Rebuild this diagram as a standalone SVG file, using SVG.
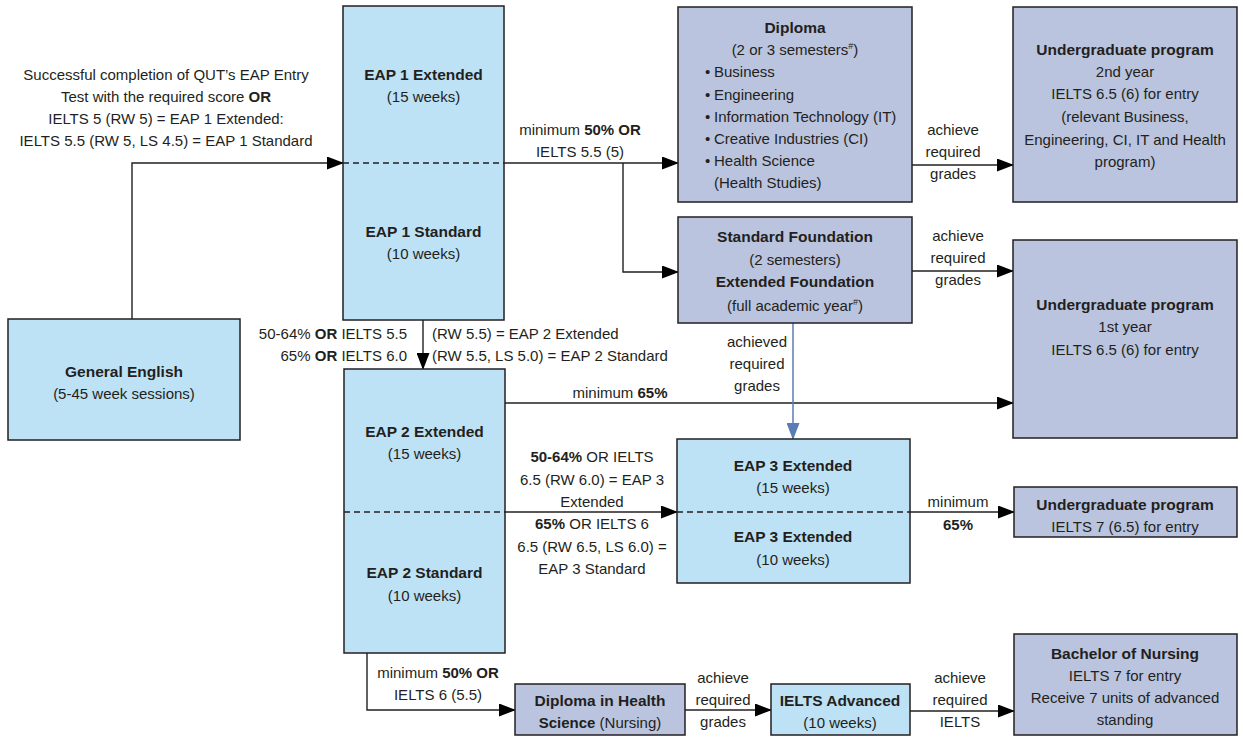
<svg xmlns="http://www.w3.org/2000/svg" width="1243" height="738" viewBox="0 0 1243 738">
<defs>
<style>
text{font-family:"Liberation Sans",Arial,sans-serif;font-size:15px;fill:#231F20}
.c{text-anchor:middle}
.r{text-anchor:end}
.b{font-weight:bold;font-size:15.5px}
.sup{font-size:9px}
.lb{fill:#BEE2F5;stroke:#231F20;stroke-width:1.5}
.lv{fill:#BAC4DE;stroke:#231F20;stroke-width:1.5}
.dash{stroke:#231F20;stroke-width:1.4;stroke-dasharray:6 4;fill:none}
.ln{stroke:#231F20;stroke-width:1.4;fill:none}
.bl{stroke:#5B7DB5;stroke-width:1.5;fill:none}
</style>
<marker id="ah" markerUnits="userSpaceOnUse" markerWidth="17" markerHeight="13" refX="16" refY="6.5" orient="auto">
<path d="M0,0 L17,6.5 L0,13 Z" fill="#000"/>
</marker>
<marker id="ahb" markerUnits="userSpaceOnUse" markerWidth="13" markerHeight="17" refX="6.5" refY="16" orient="0">
<path d="M0,0 L13,0 L6.5,17 Z" fill="#5B7DB5"/>
</marker>
</defs>

<g id="connectors">
<path class="ln" d="M132,319 V163 H343" marker-end="url(#ah)"/>
<path class="ln" d="M504,163 H678" marker-end="url(#ah)"/>
<path class="ln" d="M623,163 V272 H678" marker-end="url(#ah)"/>
<path class="ln" d="M912,165 H1013" marker-end="url(#ah)"/>
<path class="ln" d="M912,271 H1013" marker-end="url(#ah)"/>
<path class="ln" d="M423,320 V369" marker-end="url(#ah)"/>
<path class="ln" d="M505,403 H1013" marker-end="url(#ah)"/>
<path class="ln" d="M505,512 H677" marker-end="url(#ah)"/>
<path class="ln" d="M910,512 H1014" marker-end="url(#ah)"/>
<path class="ln" d="M367,653 V710 H515" marker-end="url(#ah)"/>
<path class="ln" d="M685,710 H771" marker-end="url(#ah)"/>
<path class="ln" d="M910,711 H1014" marker-end="url(#ah)"/>
<path class="bl" d="M793,323 V439" marker-end="url(#ahb)"/>

<text class="c" x="166"><tspan x="166" y="80">Successful completion of QUT’s EAP Entry</tspan><tspan x="166" y="102">Test with the required score <tspan font-weight="bold">OR</tspan></tspan><tspan x="166" y="124">IELTS 5 (RW 5) = EAP 1 Extended:</tspan><tspan x="166" y="146">IELTS 5.5 (RW 5, LS 4.5) = EAP 1 Standard</tspan></text>
<text class="c"><tspan x="580" y="135">minimum <tspan font-weight="bold">50% OR</tspan></tspan><tspan x="580" y="157">IELTS 5.5 (5)</tspan></text>
<text class="c"><tspan x="953" y="135">achieve</tspan><tspan x="953" y="157">required</tspan><tspan x="953" y="179">grades</tspan></text>
<text class="c"><tspan x="958" y="241">achieve</tspan><tspan x="958" y="263">required</tspan><tspan x="958" y="285">grades</tspan></text>
<text class="c"><tspan x="757" y="347">achieved</tspan><tspan x="757" y="369">required</tspan><tspan x="757" y="391">grades</tspan></text>
<text class="r"><tspan x="407" y="339">50-64% <tspan font-weight="bold">OR</tspan> IELTS 5.5</tspan><tspan x="407" y="361">65% <tspan font-weight="bold">OR</tspan> IELTS 6.0</tspan></text>
<text><tspan x="432" y="339">(RW 5.5) = EAP 2 Extended</tspan><tspan x="432" y="361">(RW 5.5, LS 5.0) = EAP 2 Standard</tspan></text>
<text class="c" x="620" y="398">minimum <tspan font-weight="bold">65%</tspan></text>
<text class="c"><tspan x="592" y="462"><tspan font-weight="bold">50-64%</tspan> OR IELTS</tspan><tspan x="592" y="485">6.5 (RW 6.0) = EAP 3</tspan><tspan x="592" y="507">Extended</tspan><tspan x="592" y="529"><tspan font-weight="bold">65%</tspan> OR IELTS 6</tspan><tspan x="592" y="552">6.5 (RW 6.5, LS 6.0) =</tspan><tspan x="592" y="574">EAP 3 Standard</tspan></text>
<text class="c"><tspan x="958" y="507">minimum</tspan><tspan x="958" y="530" font-weight="bold">65%</tspan></text>
<text class="c"><tspan x="438" y="678">minimum <tspan font-weight="bold">50% OR</tspan></tspan><tspan x="438" y="700">IELTS 6 (5.5)</tspan></text>
<text class="c"><tspan x="723" y="683">achieve</tspan><tspan x="723" y="705">required</tspan><tspan x="723" y="727">grades</tspan></text>
<text class="c"><tspan x="960" y="683">achieve</tspan><tspan x="960" y="705">required</tspan><tspan x="960" y="727">IELTS</tspan></text>
</g>

<g id="general-english">
<rect class="lb" x="8" y="319" width="232" height="121"/>
<text class="c b" x="124" y="377">General English</text>
<text class="c" x="124" y="399">(5-45 week sessions)</text>
</g>

<g id="eap1">
<rect class="lb" x="343" y="6" width="161" height="314"/>
<line class="dash" x1="343" y1="163" x2="504" y2="163"/>
<text class="c b" x="423.5" y="80">EAP 1 Extended</text>
<text class="c" x="423.5" y="102">(15 weeks)</text>
<text class="c b" x="423.5" y="237">EAP 1 Standard</text>
<text class="c" x="423.5" y="259">(10 weeks)</text>
</g>

<g id="diploma">
<rect class="lv" x="678" y="7" width="234" height="195"/>
<text class="c b" x="795" y="33">Diploma</text>
<text class="c" x="795" y="55">(2 or 3 semesters<tspan class="sup" dy="-6">#</tspan><tspan dy="6">)</tspan></text>
<text><tspan x="705" y="77">•</tspan><tspan x="714" y="77">Business</tspan><tspan x="705" y="100">•</tspan><tspan x="714" y="100">Engineering</tspan><tspan x="705" y="122">•</tspan><tspan x="714" y="122">Information Technology (IT)</tspan><tspan x="705" y="144">•</tspan><tspan x="714" y="144">Creative Industries (CI)</tspan><tspan x="705" y="166">•</tspan><tspan x="714" y="166">Health Science</tspan><tspan x="714" y="188">(Health Studies)</tspan></text>
</g>

<g id="ug-2nd-year">
<rect class="lv" x="1013" y="7" width="224" height="195"/>
<text class="c"><tspan x="1125" y="55" class="b">Undergraduate program</tspan><tspan x="1125" y="77">2nd year</tspan><tspan x="1125" y="99">IELTS 6.5 (6) for entry</tspan><tspan x="1125" y="122">(relevant Business,</tspan><tspan x="1125" y="145">Engineering, CI, IT and Health</tspan><tspan x="1125" y="167">program)</tspan></text>
</g>

<g id="foundation">
<rect class="lv" x="678" y="217" width="234" height="106"/>
<text class="c b" x="795" y="242">Standard Foundation</text>
<text class="c" x="795" y="265">(2 semesters)</text>
<text class="c b" x="795" y="287">Extended Foundation</text>
<text class="c" x="795" y="311">(full academic year<tspan class="sup" dy="-6">#</tspan><tspan dy="6">)</tspan></text>
</g>

<g id="ug-1st-year">
<rect class="lv" x="1013" y="240" width="224" height="198"/>
<text class="c b" x="1125" y="310">Undergraduate program</text>
<text class="c" x="1125" y="332">1st year</text>
<text class="c" x="1125" y="355">IELTS 6.5 (6) for entry</text>
</g>

<g id="eap2">
<rect class="lb" x="344" y="369" width="161" height="284"/>
<line class="dash" x1="344" y1="512" x2="505" y2="512"/>
<text class="c b" x="424.5" y="437">EAP 2 Extended</text>
<text class="c" x="424.5" y="459">(15 weeks)</text>
<text class="c b" x="424.5" y="578">EAP 2 Standard</text>
<text class="c" x="424.5" y="601">(10 weeks)</text>
</g>

<g id="eap3">
<rect class="lb" x="677" y="439" width="233" height="144"/>
<line class="dash" x1="677" y1="512" x2="910" y2="512"/>
<text class="c b" x="793" y="471">EAP 3 Extended</text>
<text class="c" x="793" y="493">(15 weeks)</text>
<text class="c b" x="793" y="542">EAP 3 Extended</text>
<text class="c" x="793" y="565">(10 weeks)</text>
</g>

<g id="ug-ielts7">
<rect class="lv" x="1014" y="487" width="223" height="50"/>
<text class="c b" x="1125" y="510">Undergraduate program</text>
<text class="c" x="1125" y="532">IELTS 7 (6.5) for entry</text>
</g>

<g id="diploma-health">
<rect class="lv" x="515" y="684" width="170" height="51"/>
<text class="c b" x="600" y="706">Diploma in Health</text>
<text class="c" x="600" y="728"><tspan font-weight="bold">Science</tspan> (Nursing)</text>
</g>

<g id="ielts-advanced">
<rect class="lb" x="771" y="684" width="139" height="51"/>
<text class="c b" x="840" y="706">IELTS Advanced</text>
<text class="c" x="840" y="728">(10 weeks)</text>
</g>

<g id="bachelor-nursing">
<rect class="lv" x="1014" y="634" width="223" height="101"/>
<text class="c b" x="1125" y="659">Bachelor of Nursing</text>
<text class="c" x="1125" y="681">IELTS 7 for entry</text>
<text class="c" x="1125" y="703">Receive 7 units of advanced</text>
<text class="c" x="1125" y="725">standing</text>
</g>
</svg>
